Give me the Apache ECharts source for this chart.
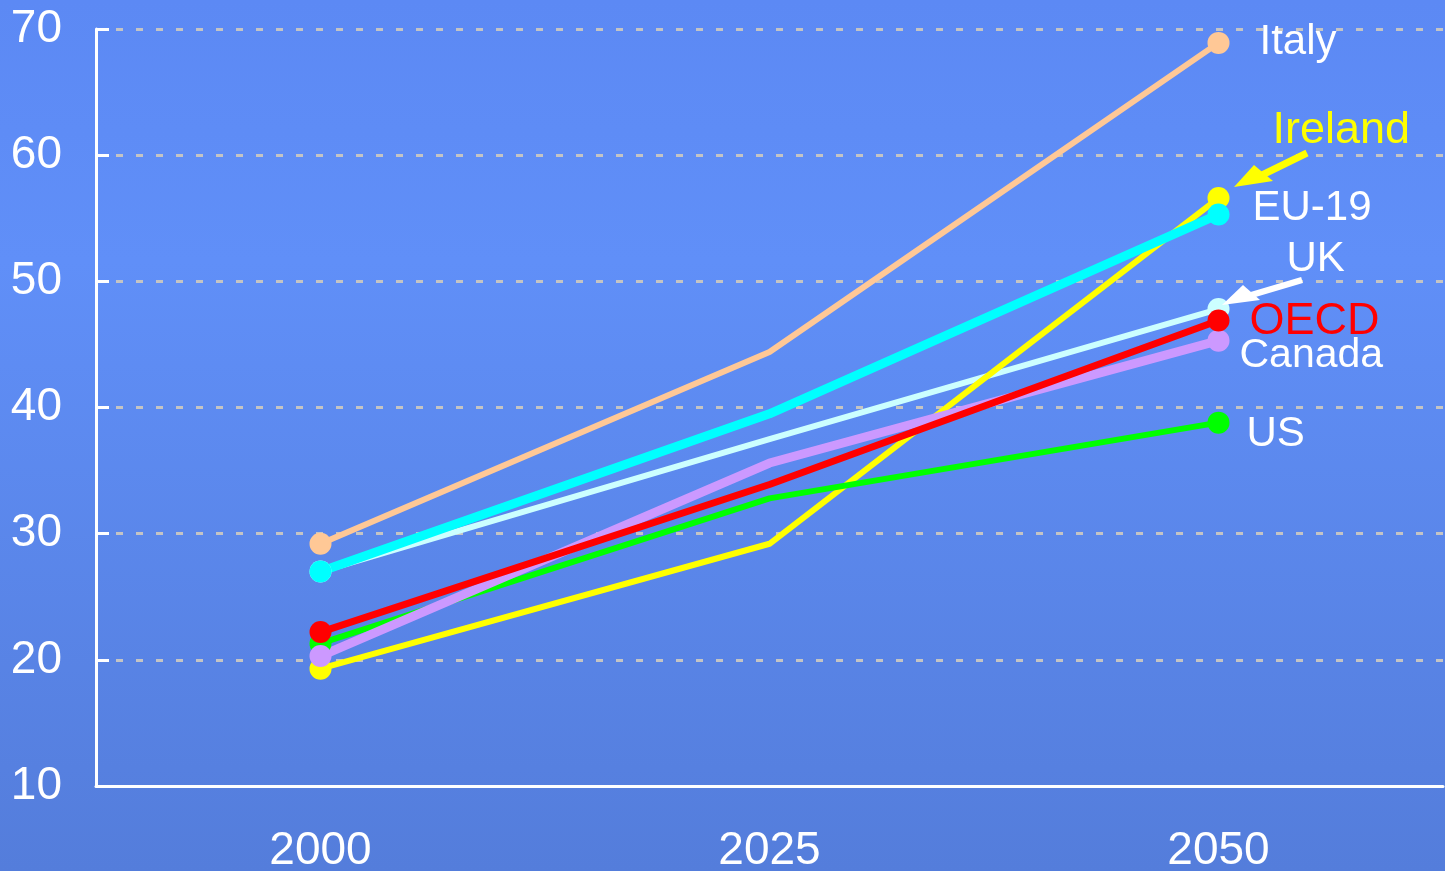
<!DOCTYPE html>
<html>
<head>
<meta charset="utf-8">
<script src="https://cdn.jsdelivr.net/npm/echarts@6/dist/echarts.min.js"></script>
<style>
html,body{margin:0;padding:0;background:#5d8af5;}
#c{width:1445px;height:871px;}
</style>
</head>
<body>
<div id="c"></div>
<script>
var years = ['2000', '2025', '2050'];
var yTicks = [10, 20, 30, 40, 50, 60, 70];
var italy   = [29.2, 44.4, 68.9];
var ireland = [19.3, 29.2, 56.6];
var eu19    = [27.0, 39.5, 55.3];
var uk      = [27.0, 37.5, 47.8];
var canada  = [20.3, 35.6, 45.3];
var us      = [21.3, 32.8, 38.8];
var oecd    = [22.2, 33.9, 46.9];

var FONT = 'Liberation Sans, Arial, sans-serif';

function mk(name, vals, color, width, labelColor, fontSize, offset) {
  return {
    name: name,
    type: 'line',
    symbol: 'circle',
    symbolSize: 22,
    showAllSymbol: true,
    lineStyle: {color: color, width: width},
    itemStyle: {color: color},
    z: 2,
    data: vals.map(function (v, i) {
      var d = {value: v};
      if (i === 1) d.symbol = 'none';
      if (i === vals.length - 1) {
        d.label = {
          show: true, formatter: name, position: 'right', distance: 5,
          offset: offset, color: labelColor, fontSize: fontSize, fontFamily: FONT
        };
      }
      return d;
    }),
    emphasis: {disabled: true},
    animation: false
  };
}

var chart = echarts.init(document.getElementById('c'));
chart.setOption({
  animation: false,
  backgroundColor: new echarts.graphic.LinearGradient(0, 0, 0, 1, [
    {offset: 0, color: '#5c89f4'},
    {offset: 0.3, color: '#608ff8'},
    {offset: 1, color: '#547ddb'}
  ]),
  grid: {left: 96, right: 2, top: 29, bottom: 85, containLabel: false, outerBoundsMode: 'none'},
  xAxis: {
    type: 'category',
    data: years,
    boundaryGap: true,
    axisLine: {lineStyle: {color: '#ffffff', width: 3}},
    axisTick: {show: false},
    axisLabel: {color: '#ffffff', fontSize: 46, fontFamily: FONT, margin: 42}
  },
  yAxis: {
    type: 'value',
    min: yTicks[0], max: yTicks[yTicks.length - 1], interval: 10,
    axisLine: {show: true, lineStyle: {color: '#ffffff', width: 3}},
    axisTick: {show: true, inside: true, length: 13, lineStyle: {color: '#ffffff', width: 3}},
    axisLabel: {color: '#ffffff', fontSize: 46, fontFamily: FONT, margin: 34},
    splitLine: {show: true, lineStyle: {color: '#c4c4c4', width: 3, type: [7, 13]}}
  },
  series: [
    mk('Italy', italy, '#ffc896', 6, '#ffffff', 42, [25, 0]),
    mk('UK', uk, '#ccffff', 6, '#ffffff', 42, [52, -50]),
    mk('Ireland', ireland, '#ffff00', 6, '#ffff00', 45, [38, -67]),
    mk('EU-19', eu19, '#00ffff', 9, '#ffffff', 42, [18, -6]),
    mk('US', us, '#00ff00', 6, '#ffffff', 42, [12, 12]),
    mk('Canada', canada, '#cc99ff', 9, '#ffffff', 41, [5, 15]),
    mk('OECD', oecd, '#ff0000', 7, '#ff0000', 45, [15, 1])
  ],
  graphic: [
    {type: 'line', shape: {x1: 1307, y1: 153, x2: 1258, y2: 177}, style: {stroke: '#ffff00', lineWidth: 7}, z: 10},
    {type: 'polygon', shape: {points: [[1234, 187], [1254, 165], [1273, 181]]}, style: {fill: '#ffff00'}, z: 10},
    {type: 'line', shape: {x1: 1302, y1: 280, x2: 1248, y2: 296}, style: {stroke: '#ffffff', lineWidth: 6}, z: 10},
    {type: 'polygon', shape: {points: [[1222, 305], [1243, 285], [1260, 300]]}, style: {fill: '#ffffff'}, z: 10}
  ]
});
</script>
</body>
</html>
